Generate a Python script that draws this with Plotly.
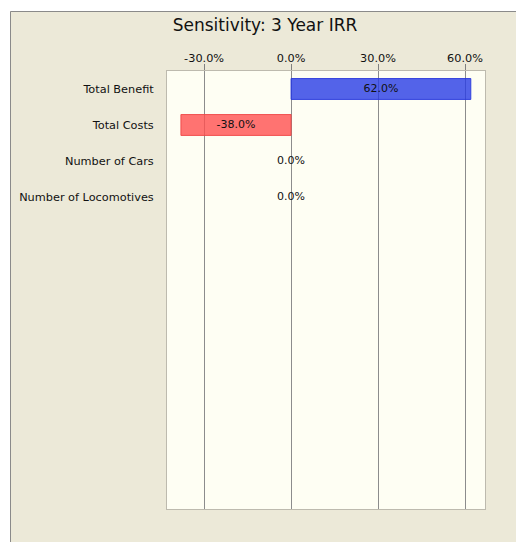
import plotly.graph_objects as go

categories = ["Total Benefit", "Total Costs", "Number of Cars", "Number of Locomotives"]
values = [62.0, -38.0, 0.0, 0.0]
tick_vals = [-30, 0, 30, 60]
tick_text = ["-30.0%", "0.0%", "30.0%", "60.0%"]
title_text = "Sensitivity: 3 Year IRR"

W, H = 516, 542
L, R, T, B = 167, 31, 71, 33
pw, ph = W - L - R, H - T - B

FONT = "DejaVu Sans, Verdana, sans-serif"

bar_colors = ["rgba(40,60,230,0.8)" if v >= 0 else "rgba(255,80,80,0.8)" for v in values]
line_colors = ["rgba(40,55,220,0.9)" if v >= 0 else "rgba(240,70,70,0.9)" for v in values]
line_widths = [1 if v != 0 else 0 for v in values]

fig = go.Figure()
fig.add_trace(go.Bar(
    x=values, y=categories, orientation="h", width=0.58,
    marker=dict(color=bar_colors, line=dict(color=line_colors, width=line_widths)),
    hoverinfo="skip", showlegend=False,
))
fig.add_trace(go.Scatter(
    x=[v / 2 for v in values], y=categories, mode="text",
    text=[f"{v:.1f}%" for v in values],
    textfont=dict(family=FONT, size=11, color="#111"),
    hoverinfo="skip", showlegend=False,
))

def px_x(px):
    return (px - L) / pw
def px_y(py):
    return (H - B - py) / ph

shapes = [
    dict(type="rect", xref="paper", yref="paper", x0=px_x(-5), x1=px_x(W + 5), y0=px_y(11), y1=px_y(-5),
         fillcolor="white", line=dict(width=0), layer="above"),
    dict(type="rect", xref="paper", yref="paper", x0=px_x(-5), x1=px_x(10), y0=px_y(H + 5), y1=px_y(-5),
         fillcolor="white", line=dict(width=0), layer="above"),
    dict(type="line", xref="paper", yref="paper", x0=px_x(10.5), x1=px_x(W + 5), y0=px_y(11.5), y1=px_y(11.5),
         line=dict(color="#8a8a8a", width=1), layer="above"),
    dict(type="line", xref="paper", yref="paper", x0=px_x(10.5), x1=px_x(10.5), y0=px_y(11.5), y1=px_y(H + 5),
         line=dict(color="#8a8a8a", width=1), layer="above"),
]

fig.update_layout(
    width=W, height=H,
    margin=dict(l=L, r=R, t=T, b=B, pad=0),
    paper_bgcolor="#ECE9D8",
    plot_bgcolor="#FEFEF3",
    font=dict(family=FONT, size=11, color="#111"),
    title=dict(text=title_text, x=265 / W, xanchor="center", y=1 - 25 / H, yanchor="middle",
               font=dict(family=FONT, size=17, color="#111")),
    shapes=shapes,
    bargap=0,
)
fig.update_xaxes(
    side="top", range=[-42.8, 66.9], tickvals=tick_vals, ticktext=tick_text,
    ticks="outside", ticklen=6, tickcolor="#808080", tickwidth=1, ticklabelstandoff=-3,
    showgrid=True, gridcolor="#8c8c8c", gridwidth=1,
    zeroline=False, showline=True, linecolor="#BDBAAE", mirror=True,
    tickfont=dict(family=FONT, size=11.3, color="#111"), fixedrange=True,
)
fig.update_yaxes(
    type="category", categoryorder="array", categoryarray=categories,
    range=[11.67, -0.5], ticks="", showgrid=False, zeroline=False,
    showline=True, linecolor="#BDBAAE", mirror=True, ticklabelstandoff=10,
    tickfont=dict(family=FONT, size=11.3, color="#111"), fixedrange=True,
)

fig.write_html(
    "out.html",
    config={"displayModeBar": False, "staticPlot": True},
    post_script="document.body.style.margin='0';document.body.style.overflow='hidden';"
                "document.documentElement.style.overflow='hidden';",
)
